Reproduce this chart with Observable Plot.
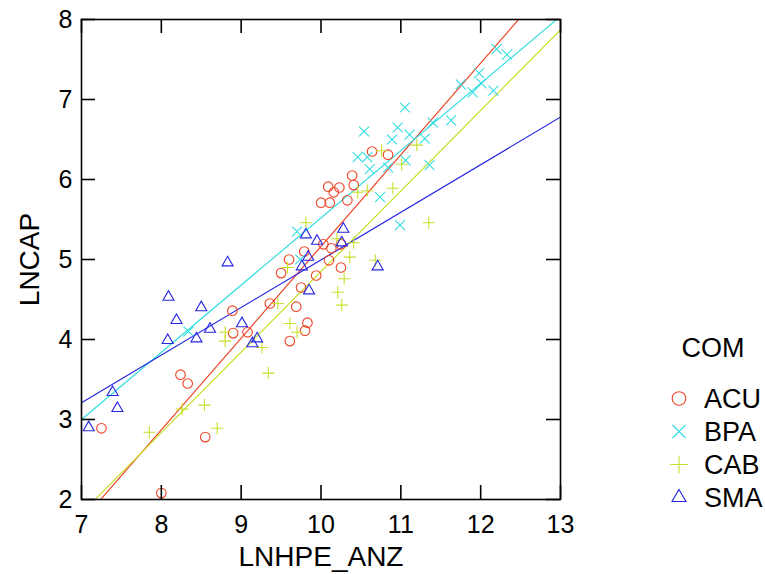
<!DOCTYPE html>
<html><head><meta charset="utf-8">
<script src="https://cdn.jsdelivr.net/npm/d3@7"></script>
<script src="https://cdn.jsdelivr.net/npm/@observablehq/plot@0.6"></script>
<style>
body{margin:0;background:#fff;}
#wrap{position:relative;width:765px;height:574px;}
#wrap svg{position:absolute;left:0;top:0;}
</style></head><body><div id="wrap"></div>
<script>
const groups = ["ACU", "BPA", "CAB", "SMA"];
const colors = ["#ee4426", "#33dde2", "#c8e02e", "#2626e4"];
const legendTitle = "COM";
const xLabel = "LNHPE_ANZ";
const yLabel = "LNCAP";
const xTicks = [7, 8, 9, 10, 11, 12, 13];
const yTicks = [2, 3, 4, 5, 6, 7, 8];

const acuX = [7.25, 8.00, 8.24, 8.33, 8.55, 8.89, 8.90, 9.08, 9.36, 9.50, 9.60, 9.61, 9.69, 9.75, 9.79, 9.80, 9.83, 9.94, 10.00, 10.03, 10.09, 10.10, 10.11, 10.13, 10.16, 10.23, 10.25, 10.25, 10.33, 10.39, 10.41, 10.64, 10.84];
const acuY = [2.89, 2.08, 3.56, 3.45, 2.78, 4.36, 4.08, 4.09, 4.45, 4.83, 5.00, 3.98, 4.41, 4.65, 5.10, 4.11, 4.21, 4.80, 5.71, 5.19, 5.91, 4.99, 5.71, 5.14, 5.84, 5.90, 5.19, 4.90, 5.74, 6.05, 5.93, 6.35, 6.31];

const bpaX = [8.34, 9.70, 9.74, 10.46, 10.54, 10.58, 10.61, 10.74, 10.84, 10.89, 10.96, 10.99, 11.05, 11.06, 11.11, 11.30, 11.36, 11.40, 11.63, 11.75, 11.90, 11.98, 12.01, 12.16, 12.20, 12.33];
const bpaY = [4.10, 5.35, 5.00, 6.28, 6.60, 6.28, 6.13, 5.78, 6.15, 6.50, 6.65, 5.43, 6.90, 6.24, 6.56, 6.51, 6.18, 6.71, 6.74, 7.19, 7.09, 7.33, 7.20, 7.11, 7.63, 7.56];

const cabX = [7.85, 8.26, 8.54, 8.70, 8.80, 8.80, 9.26, 9.34, 9.46, 9.58, 9.61, 9.70, 9.81, 10.20, 10.21, 10.26, 10.29, 10.36, 10.41, 10.46, 10.58, 10.68, 10.76, 10.90, 11.01, 11.20, 11.35];
const cabY = [2.84, 3.13, 3.18, 2.89, 4.09, 3.98, 3.90, 3.58, 4.45, 4.90, 4.20, 4.09, 5.46, 5.26, 4.59, 4.43, 4.76, 5.03, 5.21, 5.84, 5.86, 4.99, 6.36, 5.89, 6.19, 6.43, 5.46];

const smaX = [7.09, 7.39, 7.45, 8.08, 8.09, 8.19, 8.44, 8.50, 8.61, 8.83, 9.01, 9.14, 9.20, 9.76, 9.81, 9.84, 9.85, 9.95, 10.28, 10.26, 10.71];
const smaY = [2.90, 3.34, 3.14, 3.99, 4.53, 4.24, 4.01, 4.40, 4.13, 4.96, 4.20, 3.95, 4.01, 4.91, 5.31, 5.03, 4.61, 5.23, 5.38, 5.21, 4.91];

// fitted straight lines: y = intercept + slope * x
const fitIntercept = [-6.297, -2.88, -5.22, -0.955];
const fitSlope = [1.146, 0.84, 1.007, 0.595];

const xDomain = [7, 13];
const yDomain = [2, 8];

const series = [[acuX, acuY], [bpaX, bpaY], [cabX, cabY], [smaX, smaY]];
const points = groups.flatMap((g, i) => series[i][0].map((x, j) => ({g, x, y: series[i][1][j]})));
const fitLines = groups.flatMap((g, i) => xDomain.map(x => ({g, x, y: fitIntercept[i] + fitSlope[i] * x})));

const plotSymbols = ["circle", "times", "plus", "triangle"];
const plotR = [4.8, 4.6, 4.0, 4.1];

const font = "'Liberation Sans', Arial, Helvetica, sans-serif";

const chart = Plot.plot({
  width: 765, height: 574,
  marginLeft: 81, marginTop: 19, marginRight: 205, marginBottom: 75,
  style: {fontFamily: font, fontSize: "25px", color: "black", background: "white"},
  x: {domain: xDomain, ticks: xTicks},
  y: {domain: yDomain, ticks: yTicks},
  color: {domain: groups, range: colors},
  marks: [
    Plot.line(fitLines, {x: "x", y: "y", z: "g", stroke: "g", strokeWidth: 1.2, clip: true}),
    ...groups.map((g, i) => Plot.dot(points.filter(d => d.g === g), {
      x: "x", y: "y", stroke: "g", symbol: plotSymbols[i], r: plotR[i], strokeWidth: 1.1, fill: "none"
    })),
    Plot.frame({stroke: "black", strokeWidth: 1.6}),
    Plot.tickX(xTicks, {x: d => d, insetTop: 466, stroke: "black", strokeWidth: 1.6}),
    Plot.tickX(xTicks, {x: d => d, insetBottom: 466, stroke: "black", strokeWidth: 1.6}),
    Plot.tickY(yTicks, {y: d => d, insetRight: 465, stroke: "black", strokeWidth: 1.6}),
    Plot.tickY(yTicks, {y: d => d, insetLeft: 465, stroke: "black", strokeWidth: 1.6}),
    Plot.axisX(xTicks, {anchor: "bottom", tickSize: 0, tickPadding: 16, fontSize: 25, label: null, tickFormat: d => String(d)}),
    Plot.axisY(yTicks, {anchor: "left", tickSize: 0, tickPadding: 9, fontSize: 25, label: null, tickFormat: d => String(d)}),
    Plot.text([xLabel], {frameAnchor: "bottom", dy: 58, lineAnchor: "middle", textAnchor: "middle", fontSize: 28, text: d => d}),
    Plot.text([yLabel], {frameAnchor: "left", dx: -51, rotate: -90, lineAnchor: "middle", textAnchor: "middle", fontSize: 28, text: d => d})
  ]
});
const wrap = document.getElementById("wrap");
wrap.appendChild(chart);

// legend to the right of the plot
const legendSymbols = [d3.symbolCircle, d3.symbolTimes, d3.symbolPlus, d3.symbolTriangle];
const legendSizes = [145, 112, 108, 85];
const leg = d3.select(wrap).append("svg")
  .attr("width", 765).attr("height", 574)
  .style("font-family", font);
leg.append("text").attr("x", 713).attr("y", 357).attr("text-anchor", "middle")
  .attr("font-size", 27).text(legendTitle);
groups.forEach((g, i) => {
  const base = 408 + i * 33;
  leg.append("path")
    .attr("d", d3.symbol(legendSymbols[i], legendSizes[i])())
    .attr("transform", `translate(679,${base - 9.5})`)
    .attr("fill", "none").attr("stroke", colors[i]).attr("stroke-width", 1.1);
  leg.append("text").attr("x", 704).attr("y", base).attr("font-size", 27).text(g);
});
</script>
</body></html>
